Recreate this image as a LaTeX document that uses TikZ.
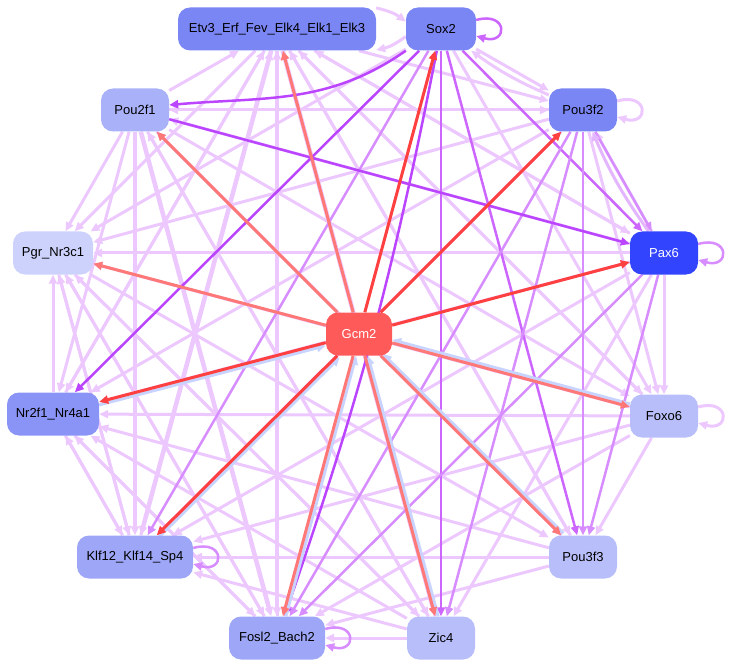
\documentclass[tikz,border=0pt]{standalone}
\usepackage{fontspec}
\setmainfont{Liberation Sans}
\usetikzlibrary{arrows.meta,backgrounds}
\definecolor{lav}{RGB}{236,200,255}
\definecolor{lavb}{RGB}{228,182,255}
\definecolor{mdp}{RGB}{215,140,255}
\definecolor{mdq}{RGB}{204,102,255}
\definecolor{stp}{RGB}{187,68,255}
\definecolor{rdc}{RGB}{255,64,64}
\definecolor{sal}{RGB}{255,120,120}
\definecolor{blu}{RGB}{200,212,255}
\definecolor{nA}{RGB}{123,134,245}
\definecolor{nB}{RGB}{169,177,248}
\definecolor{nC}{RGB}{205,210,252}
\definecolor{nD}{RGB}{138,148,246}
\definecolor{nE}{RGB}{184,190,250}
\definecolor{nF}{RGB}{158,167,247}
\definecolor{nP}{RGB}{51,68,255}
\definecolor{nG}{RGB}{255,90,90}
\tikzset{
  x=1pt,y=-1pt,
  gnode/.style={rounded corners=12pt,minimum height=43pt,inner sep=0pt,font=\fontsize{13}{15}\selectfont,text=black},
  tip/.style={-{Triangle[length=9pt,width=8pt]}},
  lt/.style={tip,draw=lav,line width=3pt},
  ltt/.style={tip,draw=lav,line width=4.5pt},
  lb/.style={tip,draw=lavb,line width=3pt},
  md/.style={tip,draw=mdp,line width=2.5pt},
  mq/.style={tip,draw=mdq,line width=2.5pt},
  st/.style={tip,draw=stp,line width=2.5pt},
  rd/.style={tip,draw=rdc,line width=3pt},
  sa/.style={tip,draw=sal,line width=3pt},
  bl/.style={tip,draw=blu,line width=3pt},
}
\newcommand{\selfloop}[2]{\draw[#1] ([yshift=9pt]#2.east) .. controls +(32pt,9pt) and +(32pt,-9pt) .. ([yshift=-7pt]#2.east);}
\begin{document}
\begin{tikzpicture}
\useasboundingbox (0,0) rectangle (731,671);
\node[gnode,fill=nA,minimum width=198pt] (E) at (277,29) {Etv3\_Erf\_Fev\_Elk4\_Elk1\_Elk3};
\node[gnode,fill=nA,minimum width=70pt] (S) at (441,29) {Sox2};
\node[gnode,fill=nB,minimum width=68pt] (P21) at (135,110) {Pou2f1};
\node[gnode,fill=nA,minimum width=68pt] (P32) at (583,110) {Pou3f2};
\node[gnode,fill=nC,minimum width=80pt] (Pg) at (53,253) {Pgr\_Nr3c1};
\node[gnode,fill=nP,minimum width=68pt,text=white] (Px) at (664,253) {Pax6};
\node[gnode,fill=nG,minimum width=66pt,text=white] (G) at (359,334) {Gcm2};
\node[gnode,fill=nD,minimum width=92pt] (N) at (53,414) {Nr2f1\_Nr4a1};
\node[gnode,fill=nE,minimum width=68pt] (F) at (664,416) {Foxo6};
\node[gnode,fill=nF,minimum width=116pt] (K) at (135,557) {Klf12\_Klf14\_Sp4};
\node[gnode,fill=nE,minimum width=68pt] (P33) at (583,557) {Pou3f3};
\node[gnode,fill=nF,minimum width=96pt] (Fo) at (277,638) {Fosl2\_Bach2};
\node[gnode,fill=nE,minimum width=68pt] (Z) at (441,638) {Zic4};
\begin{pgfonlayer}{background}
% light edges among outer nodes
\draw[lt] (E) to[bend left=12] (S);
\draw[lt] (S) to[bend left=12] (E);
\draw[lt] (E) -- (P32);
\draw[lt] (E) -- (Pg);
\draw[lt] (E) -- (N);
\draw[ltt] (E) -- (K);
\draw[ltt] (E) -- (Fo);
\draw[ltt] (E) -- (Z);
\draw[lt] (E) -- (P33);
\draw[lt] (E) -- (F);
\draw[lt] (E) -- (Px);
\draw[lt] (S) -- (P32);
\draw[lt] (P32) to[bend left=6] (S);
\draw[lt] (S) -- (Pg);
\draw[lt] (S) -- (F);
\draw[lt] (P21) -- (E);
\draw[lt] (P21) -- (P32);
\draw[lt] (P21) -- (Pg);
\draw[lt] (P21) -- (N);
\draw[ltt] (P21) -- (K);
\draw[ltt] (P21) -- (Fo);
\draw[lt] (P21) -- (Z);
\draw[lt] (P21) -- (P33);
\draw[lt] (P21) -- (F);
\draw[lt] (P32) -- (Pg);
\draw[lt] (P32) -- (N);
\draw[lt] (P32) -- (K);
\draw[lt] (P32) -- (F);
\draw[lt] (P32) -- (P21);
\draw[lt] (Px) -- (P32);
\draw[lt] (Px) -- (Pg);
\draw[lt] (Px) -- (N);
\draw[lt] (Px) -- (K);
\draw[lt] (Px) -- (Z);
\draw[lt] (Px) -- (F);
\draw[lt] (Px) -- (E);
\draw[lt] (Px) -- (P21);
\draw[lt] (F) -- (N);
\draw[lt] (F) -- (K);
\draw[lt] (F) -- (Fo);
\draw[lt] (F) -- (P33);
\draw[lt] (F) -- (Pg);
\draw[lt] (F) -- (E);
\draw[lt] (P33) -- (K);
\draw[lt] (P33) -- (N);
\draw[lt] (P33) -- (E);
\draw[lt] (P33) -- (P21);
\draw[lt] (P33) -- (Fo);
\draw[lt] (Z) -- (Fo);
\draw[lt] (Z) -- (K);
\draw[lt] (Z) -- (N);
\draw[lt] (Z) -- (E);
\draw[lt] (Z) -- (Pg);
\draw[lt] (Z) -- (P21);
\draw[lt] (Fo) -- (E);
\draw[lt] (Fo) -- (N);
\draw[lt] (Fo) -- (Pg);
\draw[lt] (K) -- (E);
\draw[lt] (K) -- (Pg);
\draw[lt] (K) -- (N);
\draw[lt] (N) -- (K);
\draw[lt] (N) -- (Pg);
\draw[lt] (N) -- (Fo);
\draw[lt] (N) -- (E);
\draw[lt] (Pg) -- (K);
\draw[lt] (Pg) -- (Fo);
\draw[lt] (Pg) -- (P33);
\draw[lt] (Pg) -- (Z);
% medium / strong purple
\draw[mq] (S) -- (Px);
\draw[mq] (S) -- (Z);
\draw[mq] (S) -- (P33);
\draw[md] (S) -- (K);
\draw[md] (P32) -- (Px);
\draw[lb] (Px) to[bend left=6] (P32);
\draw[md] (P32) -- (Z);
\draw[md] (P32) -- (P33);
\draw[md] (P32) -- (Fo);
\draw[md] (Px) -- (Fo);
\draw[md] (Px) -- (P33);
\draw[st] (S) -- (N);
\draw[st] (S) to[bend left=4] (Fo);
\draw[st] (S.south west) to[out=215,in=5] ([yshift=5pt]P21.east);
\draw[st] (P21) -- (Px);
% self loops
\selfloop{mq}{S}
\selfloop{lt}{P32}
\selfloop{md}{Px}
\selfloop{lt}{F}
\selfloop{md}{K}
\selfloop{md}{Fo}
% blue incoming to Gcm2
\draw[bl,transform canvas={shift={(0pt,-3pt)}}] (N) -- (G);
\draw[bl,transform canvas={shift={(2.5pt,-1.5pt)}}] (K) -- (G);
\draw[bl,transform canvas={shift={(3pt,0pt)}}] (Fo) -- (G);
\draw[bl,transform canvas={shift={(3pt,0pt)}}] (Z) -- (G);
\draw[bl,transform canvas={shift={(2pt,2pt)}}] (P33) -- (G);
\draw[bl,transform canvas={shift={(0pt,3pt)}}] (F) -- (G);
% Gcm2 outgoing
\draw[sa] (G) -- (E);
\draw[rd] (G) -- (S);
\draw[rd] (G) -- (P32);
\draw[rd] (G) -- (Px);
\draw[sa] (G) -- (P21);
\draw[sa] (G) -- (Pg);
\draw[rd] (G) -- (N);
\draw[rd] (G) -- (K);
\draw[sa] (G) -- (Fo);
\draw[sa] (G) -- (Z);
\draw[sa] (G) -- (P33);
\draw[sa] (G) -- (F);
\end{pgfonlayer}
\end{tikzpicture}
\end{document}
